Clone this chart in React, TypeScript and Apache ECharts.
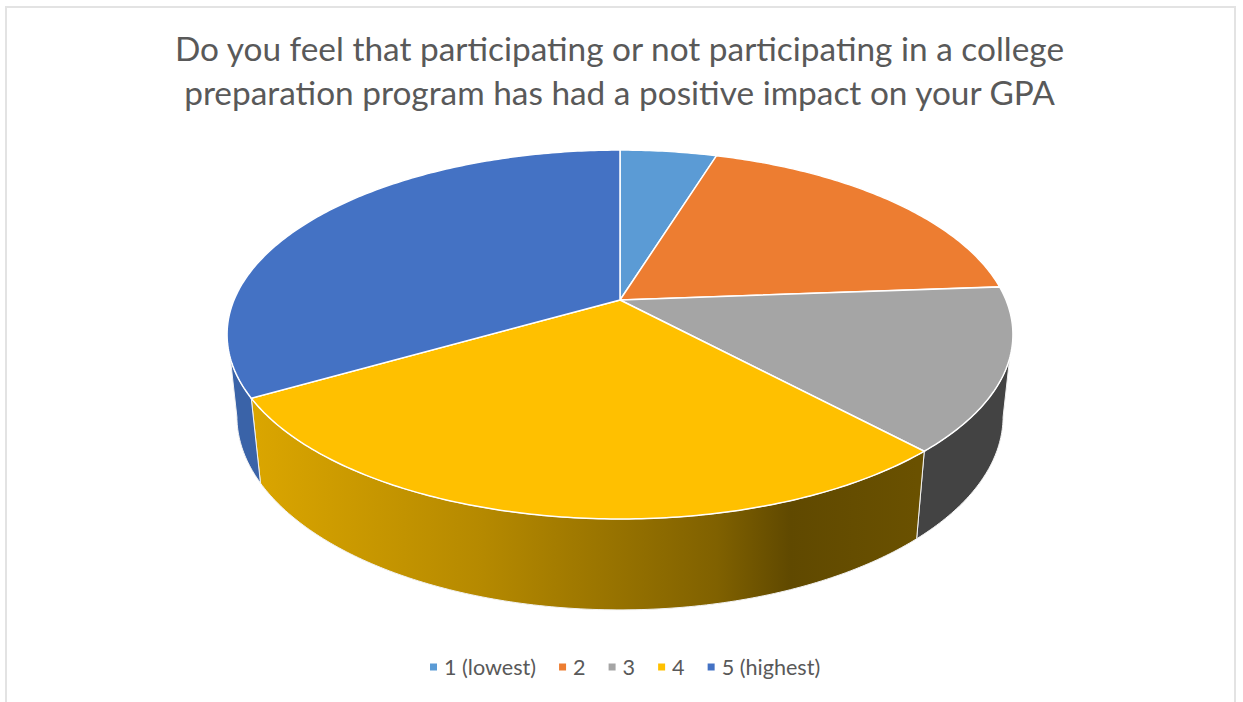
import React, { useEffect, useRef } from "react";
import * as echarts from "echarts";

const titleLines = [
  "Do you feel that participating or not participating in a college",
  "preparation program has had a positive impact on your GPA",
];
const categories = ["1 (lowest)", "2", "3", "4", "5 (highest)"];
const responseCounts = [1, 4, 3, 6, 7];
const topColors = ["#5B9BD5", "#ED7D31", "#A5A5A5", "#FFC000", "#4472C4"];

// perspective projection of the pie disc
const APEX_X = 620;
const APEX_Y = 300;
const PERSP = 0.187;
const SCALE_X = 386;
const SCALE_Y = 178;
const BOTTOM_X = 0.975;
const BOTTOM_Y = 1.05;
const BOTTOM_OFFSET = 80;
// angles (degrees clockwise from the far point) bounding the visible wall
const TOP_VIS = [108, 252];
const BOTTOM_VIS = [101, 259];

const total = responseCounts.reduce((a, b) => a + b, 0);

function topPoint(deg: number): number[] {
  const t = (deg * Math.PI) / 180;
  const X = Math.sin(t);
  const Y = Math.cos(t);
  const w = 1 + PERSP * Y;
  return [APEX_X + (SCALE_X * X) / w, APEX_Y - (SCALE_Y * Y) / w];
}
function bottomPoint(deg: number): number[] {
  const [x, y] = topPoint(deg);
  return [
    APEX_X + (x - APEX_X) * BOTTOM_X,
    APEX_Y + BOTTOM_OFFSET + (y - APEX_Y) * BOTTOM_Y,
  ];
}
function arc(a: number, b: number, fn: (d: number) => number[]): number[][] {
  const n = Math.max(2, Math.ceil(Math.abs(b - a) / 0.75));
  const pts: number[][] = [];
  for (let i = 0; i <= n; i++) pts.push(fn(a + ((b - a) * i) / n));
  return pts;
}

function sideFill(i: number): any {
  if (i === 3) {
    return new echarts.graphic.LinearGradient(
      250, 0, 917, 0,
      [
        { offset: 0, color: "#DBA600" },
        { offset: 0.35, color: "#B58900" },
        { offset: 0.7, color: "#806100" },
        { offset: 0.81, color: "#604900" },
        { offset: 1, color: "#6A5100" },
      ],
      true
    );
  }
  if (i === 2) return "#434343";
  return "#3A63A8";
}

function makeSeries(i: number): any {
  const before = responseCounts.slice(0, i).reduce((a, b) => a + b, 0);
  const start = (before / total) * 360;
  const end = ((before + responseCounts[i]) / total) * 360;
  return {
    type: "custom",
    name: categories[i],
    coordinateSystem: "none",
    silent: true,
    itemStyle: { color: topColors[i] },
    data: [[responseCounts[i]]],
    renderItem: () => {
      const children: any[] = [];
      const tA = Math.max(start, TOP_VIS[0]);
      const tB = Math.min(end, TOP_VIS[1]);
      if (tB > tA) {
        const bA = start <= TOP_VIS[0] ? Math.max(start, BOTTOM_VIS[0]) : start;
        const bB = end >= TOP_VIS[1] ? Math.min(end, BOTTOM_VIS[1]) : end;
        children.push({
          type: "polygon",
          z2: 1,
          shape: { points: [...arc(tA, tB, topPoint), ...arc(bB, bA, bottomPoint)] },
          style: { fill: sideFill(i), stroke: "#F2F2F2", lineWidth: 1 },
        });
      }
      children.push({
        type: "polygon",
        z2: 2,
        shape: { points: [[APEX_X, APEX_Y], ...arc(start, end, topPoint)] },
        style: { fill: topColors[i], stroke: "#FFFFFF", lineWidth: 1.5 },
      });
      return { type: "group", children };
    },
  };
}

export default function App() {
  const ref = useRef<HTMLDivElement>(null);
  useEffect(() => {
    const chart = echarts.init(ref.current!, null, { renderer: "svg" });
    chart.setOption({
      animation: false,
      backgroundColor: "#FFFFFF",
      title: {
        text: titleLines.join("\n"),
        left: 614.5,
        top: 21,
        textAlign: "center",
        textStyle: {
          fontFamily: "Lato",
          fontSize: 33.4,
          fontWeight: "normal",
          color: "#595959",
          lineHeight: 44,
        },
      },
      legend: {
        data: categories,
        left: 425,
        top: 651,
        icon: "rect",
        itemWidth: 7,
        itemHeight: 7,
        itemGap: 23,
        textStyle: {
          fontFamily: "Lato",
          fontSize: 21.6,
          color: "#595959",
          padding: [0, 0, 0, 2],
        },
      },
      graphic: [
        {
          type: "polyline",
          silent: true,
          shape: { points: [[6, 702], [6, 7], [1235, 7], [1235, 702]] },
          style: { fill: "none", stroke: "#E3E3E3", lineWidth: 2 },
        },
      ],
      series: categories.map((_, i) => makeSeries(i)),
    });
    return () => chart.dispose();
  }, []);
  return (
    <div
      ref={ref}
      style={{ position: "fixed", left: 0, top: 0, width: 1243, height: 702 }}
    />
  );
}
